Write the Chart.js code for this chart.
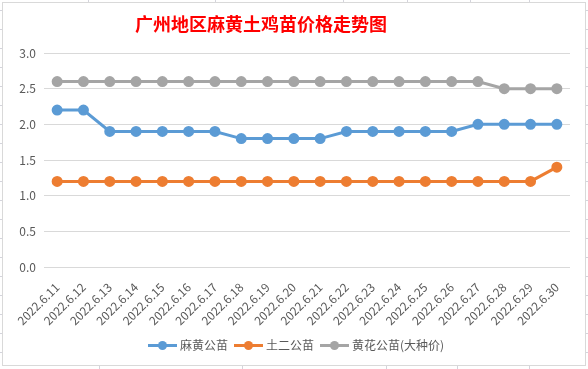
<!DOCTYPE html>
<html>
<head>
<meta charset="utf-8">
<script src="https://cdn.jsdelivr.net/npm/chart.js@4"></script>
<style>
    html, body { margin: 0; padding: 0; background: #fff; }
    #page { position: relative; width: 588px; height: 369px; overflow: hidden; }
    .stub { position: absolute; background: #d4d4dc; }
    #frame { position: absolute; left: 2px; top: 2px; width: 582px; height: 362px; border: 1px solid #d9d9d9; background: #fff; }
    #chart { position: absolute; left: 0; top: 0; }
    #title { position: absolute; left: 0; width: 522px; top: 10px; text-align: center;
        font-family: "Noto Sans CJK SC", serif; font-weight: bold; font-size: 18px; color: #ff0000; }
    #legend { position: absolute; left: 0; width: 592px; top: 336px; text-align: center;
        font-family: "Noto Sans CJK SC", sans-serif; font-size: 12px; color: #595959; }
    .item { display: inline-block; margin: 0 3px; white-space: nowrap; }
    .swatch { display: inline-block; position: relative; width: 29px; height: 9px; vertical-align: middle; margin-right: 3px; top: -1px; }
    .swatch i { position: absolute; left: 0; right: 0; top: 3px; height: 3px; }
    .swatch b { position: absolute; left: 10px; top: 0; width: 9px; height: 9px; border-radius: 50%; }
</style>
</head>
<body>
<div id="page">
    <div id="frame"></div>
    <canvas id="chart" width="588" height="369"></canvas>
    <div id="title">广州地区麻黄土鸡苗价格走势图</div>
    <div id="legend"></div>
</div>
<script>
    const dates = ['2022.6.11', '2022.6.12', '2022.6.13', '2022.6.14', '2022.6.15', '2022.6.16', '2022.6.17',
        '2022.6.18', '2022.6.19', '2022.6.20', '2022.6.21', '2022.6.22', '2022.6.23', '2022.6.24',
        '2022.6.25', '2022.6.26', '2022.6.27', '2022.6.28', '2022.6.29', '2022.6.30'];
    const mahuang = [2.2, 2.2, 1.9, 1.9, 1.9, 1.9, 1.9, 1.8, 1.8, 1.8, 1.8, 1.9, 1.9, 1.9, 1.9, 1.9, 2.0, 2.0, 2.0, 2.0];
    const tuer = [1.2, 1.2, 1.2, 1.2, 1.2, 1.2, 1.2, 1.2, 1.2, 1.2, 1.2, 1.2, 1.2, 1.2, 1.2, 1.2, 1.2, 1.2, 1.2, 1.4];
    const huanghua = [2.6, 2.6, 2.6, 2.6, 2.6, 2.6, 2.6, 2.6, 2.6, 2.6, 2.6, 2.6, 2.6, 2.6, 2.6, 2.6, 2.6, 2.5, 2.5, 2.5];
    const seriesNames = ['麻黄公苗', '土二公苗', '黄花公苗(大种价)'];
    const colors = ['#5b9bd5', '#ed7d31', '#a5a5a5'];

    // spreadsheet grid stubs around the chart box
    const page = document.getElementById('page');
    function stub(l, t, w, h) {
        const d = document.createElement('div');
        d.className = 'stub';
        d.style.left = l + 'px'; d.style.top = t + 'px';
        d.style.width = w + 'px'; d.style.height = h + 'px';
        page.insertBefore(d, page.firstChild);
    }
    for (let y = 10; y < 369; y += 19) { stub(0, y, 3, 1); stub(585, y, 3, 1); }
    [88, 215, 343, 407, 470, 529].forEach(x => stub(x, 0, 1, 3));
    [99, 242, 386, 457, 529].forEach(x => stub(x, 365, 1, 4));

    const sets = [mahuang, tuer, huanghua].map((vals, i) => ({
        label: seriesNames[i],
        data: vals,
        borderColor: colors[i],
        backgroundColor: colors[i],
        borderWidth: 3,
        pointRadius: 4,
        pointHoverRadius: 4,
        tension: 0
    }));

    new Chart(document.getElementById('chart'), {
        type: 'line',
        data: { labels: dates, datasets: sets },
        options: {
            responsive: false,
            animation: false,
            layout: { padding: { left: 0, right: 18, top: 53, bottom: 0 } },
            plugins: { legend: { display: false }, tooltip: { enabled: false } },
            scales: {
                x: {
                    offset: true,
                    grid: { display: false },
                    border: { display: false },
                    ticks: {
                        color: '#595959',
                        font: { family: 'Noto Sans CJK SC', size: 12 },
                        minRotation: 45, maxRotation: 45,
                        autoSkip: false,
                        padding: 5
                    },
                    afterFit: scale => { scale.height = 102; }
                },
                y: {
                    min: 0, max: 3,
                    grid: { color: '#d9d9d9', drawTicks: false },
                    border: { display: false },
                    ticks: {
                        stepSize: 0.5,
                        padding: 8,
                        color: '#595959',
                        font: { family: 'Noto Sans CJK SC', size: 12 },
                        callback: v => v.toFixed(1)
                    },
                    afterFit: scale => { scale.width = 44; }
                }
            }
        }
    });

    const legend = document.getElementById('legend');
    seriesNames.forEach((name, i) => {
        const item = document.createElement('span');
        item.className = 'item';
        item.innerHTML = '<span class="swatch"><i style="background:' + colors[i] + '"></i><b style="background:' +
            colors[i] + '"></b></span>' + name;
        legend.appendChild(item);
    });
</script>
</body>
</html>
